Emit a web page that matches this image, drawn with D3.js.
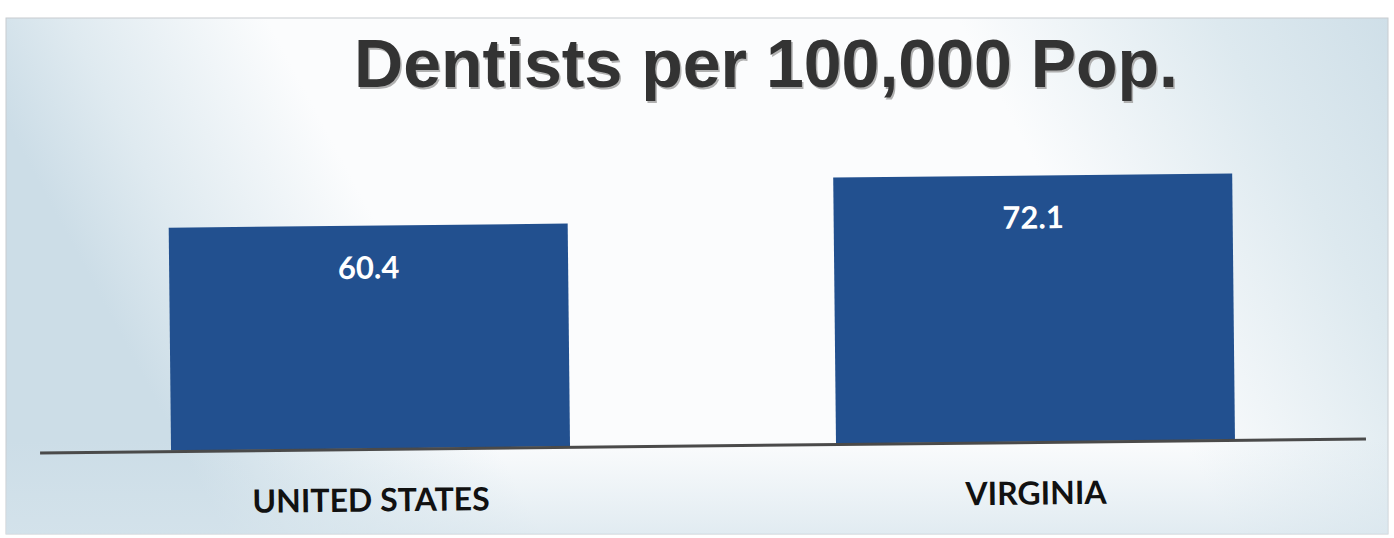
<!DOCTYPE html>
<meta charset="utf-8">
<script src="https://d3js.org/d3.v7.min.js"></script>
<style>
  body { margin: 0; background: #fff; }
</style>
<div id="chart"></div>
<script>

// chart data
var categories = ["UNITED STATES", "VIRGINIA"];
var values = [60.4, 72.1];
var labels = ["60.4", "72.1"];
var title = "Dentists per 100,000 Pop.";

var W = 1394, H = 538;

var svg = d3.select("#chart").append("svg")
  .attr("width", W)
  .attr("height", H);

// slide background: white through the middle, pale blue towards the sides
var defs = svg.append("defs");
var grad = defs.append("linearGradient")
  .attr("id", "bg")
  .attr("x1", "0%").attr("x2", "100%")
  .attr("y1", "20%").attr("y2", "0%");
grad.append("stop").attr("offset", "0%").attr("stop-color", "#ccdde7");
grad.append("stop").attr("offset", "8%").attr("stop-color", "#dfeaf0");
grad.append("stop").attr("offset", "22%").attr("stop-color", "#fbfcfd");
grad.append("stop").attr("offset", "70%").attr("stop-color", "#fbfcfd");
grad.append("stop").attr("offset", "88%").attr("stop-color", "#dde9ef");
grad.append("stop").attr("offset", "100%").attr("stop-color", "#cfdfe8");

var grad2 = defs.append("linearGradient")
  .attr("id", "bgBottom")
  .attr("x1", "0%").attr("x2", "0%")
  .attr("y1", "0%").attr("y2", "100%");
grad2.append("stop").attr("offset", "0%").attr("stop-color", "#d6e4ec").attr("stop-opacity", 0);
grad2.append("stop").attr("offset", "100%").attr("stop-color", "#d6e4ec").attr("stop-opacity", 0.7);

svg.append("rect")
  .attr("x", 6).attr("y", 18)
  .attr("width", 1382).attr("height", 516)
  .attr("fill", "url(#bg)")
  .attr("stroke", "#c8ccd0")
  .attr("stroke-width", 1);
svg.append("rect")
  .attr("x", 6).attr("y", 440)
  .attr("width", 1382).attr("height", 94)
  .attr("fill", "url(#bgBottom)");

// title with a faint shadow
svg.append("text")
  .attr("x", 766).attr("y", 87)
  .attr("text-anchor", "middle")
  .attr("font-family", "Liberation Sans, Arial, sans-serif")
  .attr("font-weight", "bold")
  .attr("font-size", 68)
  .attr("fill", "#b0b0b0")
  .attr("transform", "translate(1.5,1.5)")
  .text(title);
svg.append("text")
  .attr("x", 766).attr("y", 87)
  .attr("text-anchor", "middle")
  .attr("font-family", "Liberation Sans, Arial, sans-serif")
  .attr("font-weight", "bold")
  .attr("font-size", 68)
  .attr("fill", "#333333")
  .text(title);

// plot area (the scan is rotated by a hair)
var baseY = 445;
var plot = svg.append("g")
  .attr("transform", "rotate(-0.6, 700, " + baseY + ")");

var x = d3.scaleBand()
  .domain(categories)
  .range([40, 1366])
  .paddingInner(0.4)
  .paddingOuter(0.197);

var y = d3.scaleLinear()
  .domain([0, 72.1])
  .range([baseY, baseY - 266]);

plot.selectAll("rect.bar")
  .data(values)
  .enter()
  .append("rect")
    .attr("class", "bar")
    .attr("x", function(d, i) { return x(categories[i]); })
    .attr("y", function(d) { return y(d); })
    .attr("width", x.bandwidth())
    .attr("height", function(d) { return y(0) - y(d); })
    .attr("fill", "#22508f");

plot.selectAll("text.val")
  .data(values)
  .enter()
  .append("text")
    .attr("class", "val")
    .attr("x", function(d, i) { return x(categories[i]) + x.bandwidth() / 2; })
    .attr("y", function(d) { return y(d) + 53; })
    .attr("text-anchor", "middle")
    .attr("font-family", "Lato, Open Sans, sans-serif")
    .attr("font-weight", "bold")
    .attr("font-size", 31)
    .attr("fill", "#ffffff")
    .text(function(d, i) { return labels[i]; });

// baseline
plot.append("line")
  .attr("x1", 40).attr("x2", 1366)
  .attr("y1", baseY + 1).attr("y2", baseY + 1)
  .attr("stroke", "#4a4a4a")
  .attr("stroke-width", 3);

// category labels
plot.selectAll("text.cat")
  .data(categories)
  .enter()
  .append("text")
    .attr("class", "cat")
    .attr("x", function(d) { return x(d) + x.bandwidth() / 2; })
    .attr("y", baseY + 63)
    .attr("text-anchor", "middle")
    .attr("font-family", "Lato, Open Sans, sans-serif")
    .attr("font-weight", "bold")
    .attr("font-size", 32)
    .attr("fill", "#111111")
    .text(function(d) { return d; });

</script>
